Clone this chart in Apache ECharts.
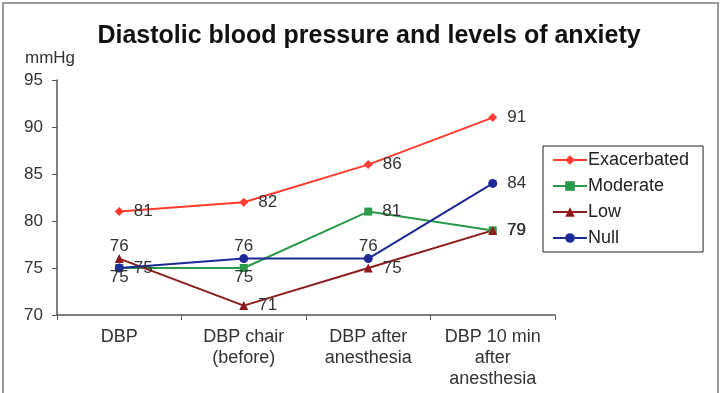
<!DOCTYPE html>
<html>
<head>
<meta charset="utf-8">
<script src="https://cdn.jsdelivr.net/npm/echarts@6/dist/echarts.min.js"></script>
<style>
  html, body { margin: 0; padding: 0; background: #fff; }
  #chart { width: 722px; height: 393px; }
</style>
</head>
<body>
<div id="chart"></div>
<script>
const categories = ['DBP', 'DBP chair\n(before)', 'DBP after\nanesthesia', 'DBP 10 min\nafter\nanesthesia']
const exacerbated = [81, 82, 86, 91]
const moderate = [75, 75, 81, 79]
const low = [76, 71, 75, 79]
const nullGroup = [75, 76, 76, 84]
const yTicks = { min: 70, max: 95, step: 5 }

// label position per point, like in the original figure
const labelPos = {
  Exacerbated: ['right', 'right', 'right', 'right'],
  Moderate: ['bottom', 'bottom', 'right', 'right'],
  Low: ['top', 'right', 'right', 'right'],
  Null: ['right', 'top', 'top', 'right'],
}
const labelDist = { right: 10, top: -1, bottom: -3 }

const font = 'Liberation Sans, Arial, sans-serif'

function makeSeries(name, values, color, symbol, size) {
  return {
    name,
    type: 'line',
    data: values.map((v, i) => ({
      value: v,
      label: { position: labelPos[name][i], distance: labelDist[labelPos[name][i]] },
    })),
    symbol,
    symbolSize: size,
    lineStyle: { color, width: 2 },
    itemStyle: { color },
    label: {
      show: true,
      color: '#333',
      fontFamily: font,
      fontSize: 17,
    },
  }
}

const chart = echarts.init(document.getElementById('chart'))

chart.setOption({
  animation: false,
  backgroundColor: '#fff',
  title: {
    text: 'Diastolic blood pressure and levels of anxiety',
    left: 364,
    textAlign: 'center',
    top: 19,
    textStyle: { fontFamily: font, fontSize: 25, fontWeight: 'bold', color: '#111' },
  },
  graphic: [
    {
      type: 'rect',
      shape: { x: 3, y: 3, width: 715, height: 400 },
      style: { fill: 'none', stroke: '#999', lineWidth: 2 },
    },
    {
      type: 'text',
      left: 25,
      top: 50,
      style: { text: 'mmHg', font: '17px ' + font, fill: '#333' },
    },
  ],
  legend: {
    orient: 'vertical',
    left: 543,
    top: 146,
    padding: [5, 14, 5, 9],
    itemGap: 8,
    itemWidth: 34,
    itemHeight: 12,
    borderColor: '#222',
    borderWidth: 1,
    textStyle: { fontFamily: font, fontSize: 18, color: '#222', padding: [0, 0, 0, -4] },
    data: ['Exacerbated', 'Moderate', 'Low', 'Null'],
  },
  grid: {
    left: 57,
    right: 167,
    top: 80,
    bottom: 78,
  },
  xAxis: {
    type: 'category',
    data: categories,
    boundaryGap: true,
    axisLine: { lineStyle: { color: '#555', width: 1.5 } },
    axisTick: { show: true, alignWithLabel: false, length: 5, lineStyle: { color: '#555' } },
    axisLabel: {
      color: '#333',
      fontFamily: font,
      fontSize: 18,
      lineHeight: 21,
      margin: 12,
      interval: 0,
    },
  },
  yAxis: {
    type: 'value',
    min: yTicks.min,
    max: yTicks.max,
    interval: yTicks.step,
    splitLine: { show: false },
    axisLine: { show: true, lineStyle: { color: '#555', width: 1.5 } },
    axisTick: { show: true, length: 5, lineStyle: { color: '#555' } },
    axisLabel: { color: '#333', fontFamily: font, fontSize: 17, margin: 14 },
  },
  series: [
    makeSeries('Exacerbated', exacerbated, '#ff3b2f', 'diamond', 9),
    makeSeries('Moderate', moderate, '#2a9a4a', 'rect', 8),
    makeSeries('Low', low, '#8e1b1b', 'triangle', 9),
    makeSeries('Null', nullGroup, '#1d2a96', 'circle', 9),
  ],
})
</script>
</body>
</html>
